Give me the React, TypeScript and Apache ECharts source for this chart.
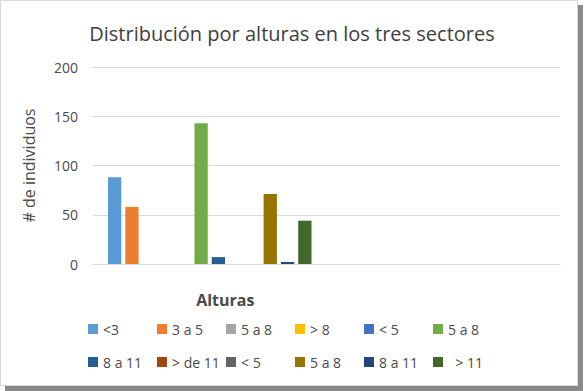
import React, { useEffect, useRef } from "react";
import * as echarts from "echarts";

const categories = ["Alturas", ""];
const seriesLabels = ["<3", "3 a 5", "5 a 8", "> 8", "< 5", "5 a 8", "8 a 11", "> de 11", "< 5", "5 a 8", "8 a 11", "  > 11"];
const seriesColors = ["#5B9BD5", "#ED7D31", "#A5A5A5", "#FFC000", "#4472C4", "#70AD47", "#255E91", "#9E480E", "#636363", "#997300", "#264478", "#43682B"];
const seriesValues = [88, 58, 0, 0, 0, 143, 7, 0, 0, 71, 2, 44];
const yTicks = { min: 0, max: 200, interval: 50 };

export default function App() {
  const ref = useRef<HTMLDivElement>(null);
  useEffect(() => {
    document.body.style.margin = "0";
    if (!ref.current) return;
    const chart = echarts.init(ref.current, undefined, { renderer: "svg" });
    const font = "Open Sans";
    const names = seriesLabels.map((_, i) => "s" + i);
    const fmt = (n: string) => seriesLabels[Number(n.slice(1))];
    const legendBase = {
      orient: "horizontal",
      left: 83,
      itemWidth: 10,
      itemHeight: 10,
      itemGap: 0,
      icon: "rect",
      formatter: fmt,
      textStyle: { fontFamily: font, fontSize: 14, color: "#4a4a4a", width: 54, lineHeight: 16 },
    };
    chart.setOption({
      animation: false,
      backgroundColor: "transparent",
      title: {
        text: "Distribución por alturas en los tres sectores",
        left: "center",
        top: 18,
        textStyle: { fontFamily: font, fontSize: 20, fontWeight: "normal", color: "#404040" },
      },
      legend: [
        { ...legendBase, top: 316, data: names.slice(0, 6) },
        { ...legendBase, top: 349, data: names.slice(6) },
      ],
      grid: { left: 93, right: 24, top: 67, bottom: 127 },
      xAxis: {
        type: "category",
        data: categories,
        axisLine: { lineStyle: { color: "#d9d9d9" } },
        axisTick: { show: false },
        axisLabel: { fontFamily: font, fontSize: 16, fontWeight: "bold", color: "#4a4a4a", margin: 28, padding: [0, 0, 0, 31] },
      },
      yAxis: {
        type: "value",
        min: yTicks.min,
        max: yTicks.max,
        interval: yTicks.interval,
        name: "# de individuos",
        nameLocation: "middle",
        nameGap: 56,
        nameTextStyle: { fontFamily: font, fontSize: 16, color: "#4a4a4a" },
        axisLine: { show: false },
        axisTick: { show: false },
        axisLabel: { fontFamily: font, fontSize: 14, color: "#4a4a4a", margin: 15 },
        splitLine: { lineStyle: { color: "#d9d9d9" } },
      },
      series: seriesLabels.map((_, i) => ({
        type: "bar",
        name: names[i],
        data: [seriesValues[i], 0],
        barWidth: 13.3,
        barGap: "30%",
        itemStyle: { color: seriesColors[i] },
      })),
    });
    return () => chart.dispose();
  }, []);
  return (
    <div style={{ position: "relative", width: 584, height: 391, background: "#fff", overflow: "hidden" }}>
      <div style={{ position: "absolute", left: 5, top: 5, width: 578, height: 386, background: "#8a8a8a" }} />
      <div style={{ position: "absolute", left: 0, top: 0, width: 576, height: 384, background: "#fff", border: "1px solid #d9d9d9" }} />
      <div ref={ref} style={{ position: "absolute", left: 0, top: 0, width: 584, height: 391 }} />
    </div>
  );
}
